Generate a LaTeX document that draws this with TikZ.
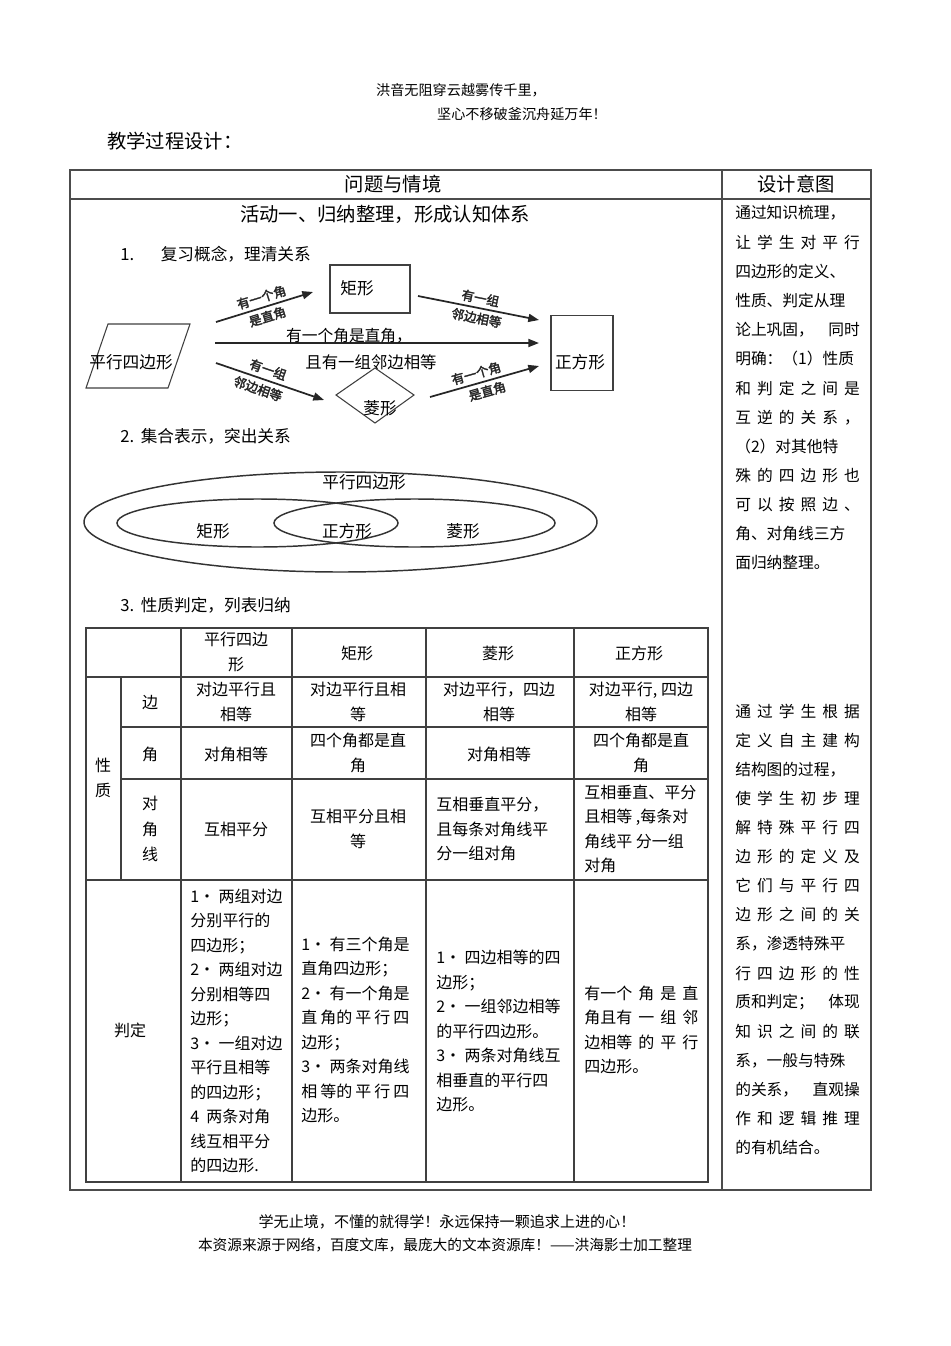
\documentclass[tikz,border=0pt]{standalone}
\usepackage{fontspec}
\setmainfont{Noto Sans CJK SC}
\newfontfamily\tagfont[FakeBold=2.5]{Noto Sans CJK SC}
\usetikzlibrary{arrows.meta}
\newcommand\cellfont{\fontsize{12}{18.4}\selectfont}
\newcommand\notefont{\fontsize{11.8}{22}\selectfont}
\newcommand\spread[2][93.5pt]{\makebox[#1][s]{#2}}

\begin{document}
\begin{tikzpicture}[x=0.75pt,y=-0.75pt,
  every node/.style={inner sep=0pt},
  frame/.style={line width=1pt,draw=black!70},
  grid/.style={line width=0.8pt,draw=black!75},
  box/.style={draw=black!75,line width=0.8pt},
  arr/.style={line width=1.3pt,black!85,-{Triangle[length=8pt,width=6pt]}},
  tag/.style={font=\tagfont\fontsize{9.5}{10}\selectfont,sloped},
  venn/.style={line width=1.1pt,black!80},
  cell/.style={font=\cellfont,align=center},
  lcell/.style={font=\cellfont,align=left,anchor=west},
  note/.style={font=\notefont,anchor=west}]
\fill[white] (0,0) rectangle (950,1346);
\useasboundingbox (0,0) rectangle (950,1346);

% page head
\node[font=\fontsize{10.6}{12}\selectfont] (motto1) at (461,90) {洪音无阻穿云越雾传千里，};
\node[font=\fontsize{10.6}{12}\selectfont] (motto2) at (522,114) {坚心不移破釜沉舟延万年！};
\node[font=\fontsize{14.5}{16}\selectfont,anchor=west] (title) at (107,141) {教学过程设计：};

% outer table
\draw[frame] (70,170) rectangle (871,1190);
\draw[frame] (70,199) -- (871,199);
\draw[frame] (722,170) -- (722,1190);
\node[font=\fontsize{14.5}{16}\selectfont] (hq) at (393,184) {问题与情境};
\node[font=\fontsize{14.5}{16}\selectfont] (hd) at (796,184) {设计意图};

\node[font=\fontsize{14.5}{16}\selectfont] (act) at (385,214) {活动一、归纳整理，形成认知体系};
\node[font=\fontsize{12.5}{14}\selectfont,anchor=west] (s1) at (120,254) {1.\hspace{20pt}复习概念，理清关系};

% relation chart
\draw[box] (108,324) -- (190,324) -- (168,388) -- (86,388) -- cycle;
\node[font=\fontsize{12.5}{14}\selectfont] (pgram) at (131,362) {平行四边形};
\node[box,minimum width=60pt,minimum height=36pt] (rect) at (370,289) {};
\node[font=\fontsize{12.5}{14}\selectfont] (rect t) at (357,288) {矩形};
\node[box,minimum width=46.5pt,minimum height=56pt] (square) at (582,353) {};
\node[font=\fontsize{12.5}{14}\selectfont] (square t) at (580,362) {正方形};
\draw[box] (336,395) -- (375,368) -- (414,395) -- (375,423) -- cycle;
\node[font=\fontsize{12.5}{14}\selectfont] (rhomb t) at (380,408) {菱形};

\coordinate (a1) at (216,322); \coordinate (b1) at (313,292);
\coordinate (a2) at (418,296); \coordinate (b2) at (539,320);
\coordinate (a3) at (215,343); \coordinate (b3) at (539,343);
\coordinate (a4) at (216,363); \coordinate (b4) at (324,400);
\coordinate (a5) at (430,397); \coordinate (b5) at (539,366);
\draw[arr] (a1) -- node[tag,above=2.5pt] (t1) {有一个角} node[tag,below=2.5pt] (u1) {是直角} (b1);
\draw[arr] (a2) -- node[tag,above=2.5pt] (t2) {有一组} node[tag,below=2.5pt] (u2) {邻边相等} (b2);
\draw[arr] (a3) -- (b3);
\draw[arr] (a4) -- node[tag,above=3pt,pos=0.45] (t4) {有一组} node[tag,below=3pt,pos=0.42] (u4) {邻边相等} (b4);
\draw[arr] (a5) -- node[tag,above=2.5pt,pos=0.45] (t5) {有一个角} node[tag,below=2.5pt] (u5) {是直角} (b5);
\node[font=\fontsize{11.8}{14}\selectfont] (mid1) at (349,336) {有一个角是直角，};
\node[font=\fontsize{12.3}{14}\selectfont] (mid2) at (371,362) {且有一组邻边相等};

% sets
\node[font=\fontsize{12.5}{14}\selectfont,anchor=west] (s2) at (120,436) {2.\hspace{5pt}集合表示，突出关系};
\draw[venn] (340.5,522) ellipse [x radius=256.5,y radius=50];
\draw[venn] (257.5,523) ellipse [x radius=140.5,y radius=24];
\draw[venn] (414.5,523) ellipse [x radius=140.5,y radius=24];
\node[font=\fontsize{12.5}{14}\selectfont] (v0) at (364,482) {平行四边形};
\node[font=\fontsize{12.5}{14}\selectfont] (v1) at (213,531) {矩形};
\node[font=\fontsize{12.5}{14}\selectfont] (v2) at (347,531) {正方形};
\node[font=\fontsize{12.5}{14}\selectfont] (v3) at (463,531) {菱形};

% summary table
\node[font=\fontsize{12.5}{14}\selectfont,anchor=west] (s3) at (120,605) {3.\hspace{5pt}性质判定，列表归纳};
\draw[grid] (86,628) rectangle (708,1182);
\draw[grid] (86,677) -- (708,677);
\draw[grid] (121,727) -- (708,727);
\draw[grid] (121,779) -- (708,779);
\draw[grid] (86,880) -- (708,880);
\draw[grid] (121,677) -- (121,880);
\foreach \x in {181,292,426,574}
  \draw[grid] (\x,628) -- (\x,1182);

\node[cell] (h1) at (236,652) {平行四边\\形};
\node[cell] (h2) at (357,653) {矩形};
\node[cell] (h3) at (498,653) {菱形};
\node[cell] (h4) at (639,653) {正方形};

\node[cell] (xz) at (103,778) {性\\质};
\node[cell] (k1) at (150,703) {边};
\node[cell] (k2) at (150,754) {角};
\node[cell,font=\fontsize{12}{19}\selectfont] (k3) at (150,829) {对\\角\\线};

\node[cell] (c11) at (236,702) {对边平行且\\相等};
\node[cell] (c12) at (358,702) {对边平行且相\\等};
\node[cell] (c13) at (499,702) {对边平行，四边\\相等};
\node[cell] (c14) at (641,702) {对边平行, 四边\\相等};
\node[cell] (c21) at (236,754) {对角相等};
\node[cell] (c22) at (358,753) {四个角都是直\\角};
\node[cell] (c23) at (499,754) {对角相等};
\node[cell] (c24) at (641,753) {四个角都是直\\角};
\node[cell] (c31) at (236,829) {互相平分};
\node[cell] (c32) at (358,829) {互相平分且相\\等};
\node[lcell] (c33) at (436,829) {互相垂直平分，\\且每条对角线平\\分一组对角};
\node[lcell] (c34) at (584,829) {互相垂直、平分\\且相等 ,每条对\\角线平 分一组\\对角};

\node[cell] (pd) at (130,1030) {判定};
\node[lcell] (d1) at (190,1031) {1· 两组对边\\分别平行的\\四边形；\\2· 两组对边\\分别相等四\\边形；\\3· 一组对边\\平行且相等\\的四边形；\\4\ \ 两条对角\\线互相平分\\的四边形.};
\node[lcell] (d2) at (301,1030) {1·\ 有三个角是\\直角四边形；\\2·\ 有一个角是\\\spread[81pt]{直 角的 平 行 四}\\边形；\\3·\ 两条对角线\\\spread[81pt]{相 等的 平 行 四}\\边形。};
\node[lcell] (d3) at (436,1031) {1·\ 四边相等的四\\边形；\\2·\ 一组邻边相等\\的平行四边形。\\3·\ 两条对角线互\\相垂直的平行四\\边形。};
\node[lcell] (d4) at (584,1030) {\spread[85.5pt]{有一个 角 是 直}\\\spread[85.5pt]{角且有 一 组 邻}\\\spread[85.5pt]{边相等 的 平 行}\\四边形。};

% design notes
\foreach \t [count=\i from 0] in {通过知识梳理，,\spread{让 学 生 对 平 行},四边形的定义、,
  性质、判定从理,\spread{论上巩固， 同时},明确：（1）性质,\spread{和 判 定 之 间 是},
  \spread{互 逆 的 关 系 ，},（2）对其他特,\spread{殊 的 四 边 形 也},
  \spread{可 以 按 照 边 、},角、对角线三方,面归纳整理。}
  \node[note] (why\i) at (735,{213+29.17*\i}) {\t};
\foreach \t [count=\i from 0] in {\spread{通 过 学 生 根 据},\spread{定 义 自 主 建 构},结构图的过程，,
  \spread{使 学 生 初 步 理},\spread{解 特 殊 平 行 四},\spread{边 形 的 定 义 及},
  \spread{它 们 与 平 行 四},\spread{边 形 之 间 的 关},系，渗透特殊平,
  \spread{行 四 边 形 的 性},\spread{质和判定； 体现},\spread{知 识 之 间 的 联},
  系，一般与特殊,\spread{的关系， 直观操},\spread{作 和 逻 辑 推 理},的有机结合。}
  \node[note] (how\i) at (735,{711+29.13*\i}) {\t};

% page foot
\node[font=\fontsize{11.3}{13}\selectfont] (foot1) at (447,1222) {学无止境，不懂的就得学！永远保持一颗追求上进的心！};
\node[font=\fontsize{11}{13}\selectfont] (foot2) at (445,1245) {本资源来源于网络，百度文库，最庞大的文本资源库！——洪海影士加工整理};
\end{tikzpicture}
\end{document}
